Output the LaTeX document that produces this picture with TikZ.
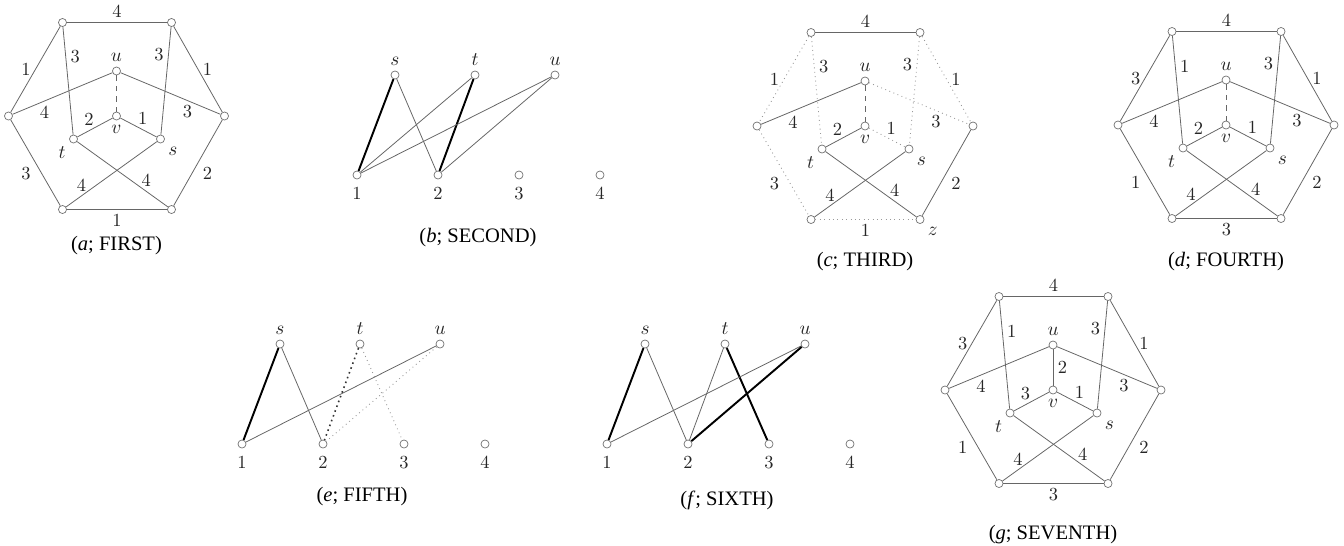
\documentclass[tikz,border=0pt]{standalone}
\usepackage{fontspec}
\newfontfamily\capserif{Liberation Serif}
\newcommand{\lblsize}{\fontsize{10.5}{12}\selectfont}
\newcommand{\capsize}{\fontsize{11.7}{14}\selectfont}

\tikzset{
  vert/.style={circle, draw=black!55, fill=white, inner sep=0pt, minimum size=4.6pt, line width=0.4pt},
  vlab/.style={font=\lblsize, text=black!85, inner sep=2.5pt},
  link/.style={draw=black!60, line width=0.45pt},
  heavy/.style={draw=black, line width=1.1pt},
  faint/.style={draw=black!40, dotted, line width=0.5pt},
  darkdot/.style={draw=black!80, dotted, line width=0.9pt},
  dashlink/.style={draw=black!60, dashed, line width=0.45pt},
  lbl/.style={font=\lblsize, text=black!85, inner sep=2.5pt},
  captext/.style={font=\capserif\capsize}
}

% hexagon vertices, centred on v
\newcommand{\hexverts}[1]{%
  \node[vert] (#1-tl) at (-54,-93.5) {};
  \node[vert] (#1-tr) at (55,-93.5) {};
  \node[vert] (#1-l) at (-108,0) {};
  \node[vert] (#1-r) at (108,0) {};
  \node[vert] (#1-bl) at (-54,93.5) {};
  \node[vert] (#1-br) at (55,93.5) {};
  \node[vert, label={[vlab]above:$u$}] (#1-u) at (0,-45) {};
  \node[vert, label={[vlab]below:$v$}] (#1-v) at (0,0) {};
  \node[vert, label={[vlab]below left:$t$}] (#1-t) at (-43,23) {};
  \node[vert, label={[vlab]below right:$s$}] (#1-s) at (44,23) {};
}

% bipartite vertices, origin at vertex 1
\newcommand{\bipverts}[1]{%
  \node[vert, label={[vlab]above:$s$}] (#1-s) at (38,0) {};
  \node[vert, label={[vlab]above:$t$}] (#1-t) at (118,0) {};
  \node[vert, label={[vlab]above:$u$}] (#1-u) at (198,0) {};
  \node[vert, label={[vlab, label distance=1.5pt]below:1}] (#1-1) at (0,100) {};
  \node[vert, label={[vlab, label distance=1.5pt]below:2}] (#1-2) at (81,100) {};
  \node[vert, label={[vlab, label distance=1.5pt]below:3}] (#1-3) at (162,100) {};
  \node[vert, label={[vlab, label distance=1.5pt]below:4}] (#1-4) at (243,100) {};
}

\begin{document}
\begin{tikzpicture}[x=0.02cm, y=-0.02cm]
  \useasboundingbox (0,0) rectangle (1344,545);

  % (a) FIRST
  \begin{scope}[shift={(116.5,116)}]
    \hexverts{a}
    \draw[link] (a-tl) -- node[lbl, above] {4} (a-tr);
    \draw[link] (a-tl) -- node[lbl, left] {1} (a-l);
    \draw[link] (a-tr) -- node[lbl, right] {1} (a-r);
    \draw[link] (a-l) -- node[lbl, below left] {3} (a-bl);
    \draw[link] (a-r) -- node[lbl, below right] {2} (a-br);
    \draw[link] (a-bl) -- node[lbl, below] {1} (a-br);
    \draw[link] (a-tl) -- node[lbl, pos=.28, right] {3} (a-t);
    \draw[link] (a-tr) -- node[lbl, pos=.26, left] {3} (a-s);
    \draw[link] (a-u) -- node[lbl, pos=.68, below] {4} (a-l);
    \draw[link] (a-u) -- node[lbl, pos=.67, below] {3} (a-r);
    \draw[dashlink] (a-u) -- (a-v);
    \draw[link] (a-v) -- node[lbl, pos=.67, above] {2} (a-t);
    \draw[link] (a-v) -- node[lbl, pos=.62, above] {1} (a-s);
    \draw[link] (a-s) -- node[lbl, pos=.83, above] {4} (a-bl);
    \draw[link] (a-t) -- node[lbl, pos=.76, above] {4} (a-br);
    \node[captext] (a-cap) at (0,130) {(\textit{a}; FIRST)};
  \end{scope}

  % (b) SECOND
  \begin{scope}[shift={(357,75)}]
    \bipverts{b}
    \draw[heavy] (b-s) -- (b-1);
    \draw[link] (b-s) -- (b-2);
    \draw[link] (b-t) -- (b-1);
    \draw[heavy] (b-t) -- (b-2);
    \draw[link] (b-u) -- (b-1);
    \draw[link] (b-u) -- (b-2);
    \node[captext] (b-cap) at (121,163) {(\textit{b}; SECOND)};
  \end{scope}

  % (c) THIRD
  \begin{scope}[shift={(865,126)}]
    \hexverts{c}
    \node[vlab, anchor=north west] (c-z) at (c-br.south east) {$z$};
    \draw[link] (c-tl) -- node[lbl, above] {4} (c-tr);
    \draw[faint] (c-tl) -- node[lbl, left] {1} (c-l);
    \draw[faint] (c-tr) -- node[lbl, right] {1} (c-r);
    \draw[faint] (c-l) -- node[lbl, below left] {3} (c-bl);
    \draw[link] (c-r) -- node[lbl, below right] {2} (c-br);
    \draw[faint] (c-bl) -- node[lbl, below] {1} (c-br);
    \draw[faint] (c-tl) -- node[lbl, pos=.28, right] {3} (c-t);
    \draw[faint] (c-tr) -- node[lbl, pos=.26, left] {3} (c-s);
    \draw[link] (c-u) -- node[lbl, pos=.68, below] {4} (c-l);
    \draw[faint] (c-u) -- node[lbl, pos=.67, below] {3} (c-r);
    \draw[dashlink] (c-u) -- (c-v);
    \draw[link] (c-v) -- node[lbl, pos=.67, above] {2} (c-t);
    \draw[faint] (c-v) -- node[lbl, pos=.62, above] {1} (c-s);
    \draw[link] (c-s) -- node[lbl, pos=.83, above] {4} (c-bl);
    \draw[link] (c-t) -- node[lbl, pos=.76, above] {4} (c-br);
    \node[captext] (c-cap) at (0,136) {(\textit{c}; THIRD)};
  \end{scope}

  % (d) FOURTH
  \begin{scope}[shift={(1226,125)}]
    \hexverts{d}
    \draw[link] (d-tl) -- node[lbl, above] {4} (d-tr);
    \draw[link] (d-tl) -- node[lbl, left] {3} (d-l);
    \draw[link] (d-tr) -- node[lbl, right] {1} (d-r);
    \draw[link] (d-l) -- node[lbl, below left] {1} (d-bl);
    \draw[link] (d-r) -- node[lbl, below right] {2} (d-br);
    \draw[link] (d-bl) -- node[lbl, below] {3} (d-br);
    \draw[link] (d-tl) -- node[lbl, pos=.28, right] {1} (d-t);
    \draw[link] (d-tr) -- node[lbl, pos=.26, left] {3} (d-s);
    \draw[link] (d-u) -- node[lbl, pos=.68, below] {4} (d-l);
    \draw[link] (d-u) -- node[lbl, pos=.67, below] {3} (d-r);
    \draw[dashlink] (d-u) -- (d-v);
    \draw[link] (d-v) -- node[lbl, pos=.67, above] {2} (d-t);
    \draw[link] (d-v) -- node[lbl, pos=.62, above] {1} (d-s);
    \draw[link] (d-s) -- node[lbl, pos=.83, above] {4} (d-bl);
    \draw[link] (d-t) -- node[lbl, pos=.76, above] {4} (d-br);
    \node[captext] (d-cap) at (0,137) {(\textit{d}; FOURTH)};
  \end{scope}

  % (e) FIFTH
  \begin{scope}[shift={(242,344)}]
    \bipverts{e}
    \draw[heavy] (e-s) -- (e-1);
    \draw[link] (e-s) -- (e-2);
    \draw[link] (e-u) -- (e-1);
    \draw[darkdot] (e-t) -- (e-2);
    \draw[faint] (e-t) -- (e-3);
    \draw[faint] (e-u) -- (e-2);
    \node[captext] (e-cap) at (120,153) {(\textit{e}; FIFTH)};
  \end{scope}

  % (f) SIXTH
  \begin{scope}[shift={(607,344)}]
    \bipverts{f}
    \draw[heavy] (f-s) -- (f-1);
    \draw[link] (f-s) -- (f-2);
    \draw[link] (f-t) -- (f-2);
    \draw[heavy] (f-t) -- (f-3);
    \draw[link] (f-u) -- (f-1);
    \draw[heavy] (f-u) -- (f-2);
    \node[captext] (f-cap) at (120,156) {(\textit{f}; SIXTH)};
  \end{scope}

  % (g) SEVENTH
  \begin{scope}[shift={(1053,390)}]
    \hexverts{g}
    \draw[link] (g-tl) -- node[lbl, above] {4} (g-tr);
    \draw[link] (g-tl) -- node[lbl, left] {3} (g-l);
    \draw[link] (g-tr) -- node[lbl, right] {1} (g-r);
    \draw[link] (g-l) -- node[lbl, below left] {1} (g-bl);
    \draw[link] (g-r) -- node[lbl, below right] {2} (g-br);
    \draw[link] (g-bl) -- node[lbl, below] {3} (g-br);
    \draw[link] (g-tl) -- node[lbl, pos=.28, right] {1} (g-t);
    \draw[link] (g-tr) -- node[lbl, pos=.26, left] {3} (g-s);
    \draw[link] (g-u) -- node[lbl, pos=.68, below] {4} (g-l);
    \draw[link] (g-u) -- node[lbl, pos=.67, below] {3} (g-r);
    \draw[link] (g-u) -- node[lbl, right] {2} (g-v);
    \draw[link] (g-v) -- node[lbl, pos=.67, above] {3} (g-t);
    \draw[link] (g-v) -- node[lbl, pos=.62, above] {1} (g-s);
    \draw[link] (g-s) -- node[lbl, pos=.83, above] {4} (g-bl);
    \draw[link] (g-t) -- node[lbl, pos=.76, above] {4} (g-br);
    \node[captext] (g-cap) at (0,145) {(\textit{g}; SEVENTH)};
  \end{scope}

\end{tikzpicture}
\end{document}
